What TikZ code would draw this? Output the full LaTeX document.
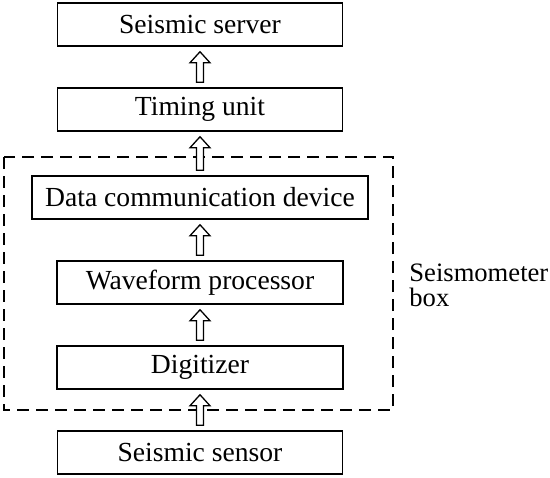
\documentclass[tikz,border=0pt]{standalone}
\usepackage{fontspec}
\setmainfont{Liberation Serif}
\usetikzlibrary{calc}
\tikzset{
  blk/.style={draw, line width=0.75pt, minimum height=21.5pt, inner sep=0pt,
    font=\fontsize{13.8}{12}\selectfont},
  hollow/.style={draw, fill=white, line width=0.65pt, line join=miter}
}
% hollow block arrow from the top of #1 up to the bottom of #2
\newcommand\hollowup[2]{%
  \draw[hollow] ($(#1.north)+(-3.5,-5)$) |- ($(#1.north |- #2.south)+(-10,16)$)
    -- ($(#1.north |- #2.south)+(0,5)$) -- ($(#1.north |- #2.south)+(10,16)$)
    -| ($(#1.north)+(3.5,-5)$) -- cycle;}

\begin{document}
\begin{tikzpicture}[x=0.5pt, y=-0.5pt]
                \useasboundingbox (0,0) rectangle (550,477);
                \foreach \name/\y/\w/\txt in {server/24.5/285/Seismic server,
                    timing/109.5/285/Timing unit,
                    comm/197.5/336/Data communication device,
                    wave/282.5/286/Waveform processor,
                    digi/367.5/286/Digitizer,
                    sensor/452.5/285/Seismic sensor}{
                    \node[blk, minimum width=\w*0.5pt] (\name) at (200,\y) {\txt};
                }
                \draw[line width=0.7pt, dash pattern=on 6pt off 3.5pt] (4,157) rectangle (393,410);
                \node[align=left, anchor=base west, inner sep=0pt,
                    font=\fontsize{13.3}{12.5}\selectfont] (lbl) at (409,306) {Seismometer\\box};
                \foreach \a/\b in {timing/server, comm/timing, wave/comm, digi/wave, sensor/digi}{
                    \hollowup{\a}{\b}
                }
            \end{tikzpicture}
\end{document}
